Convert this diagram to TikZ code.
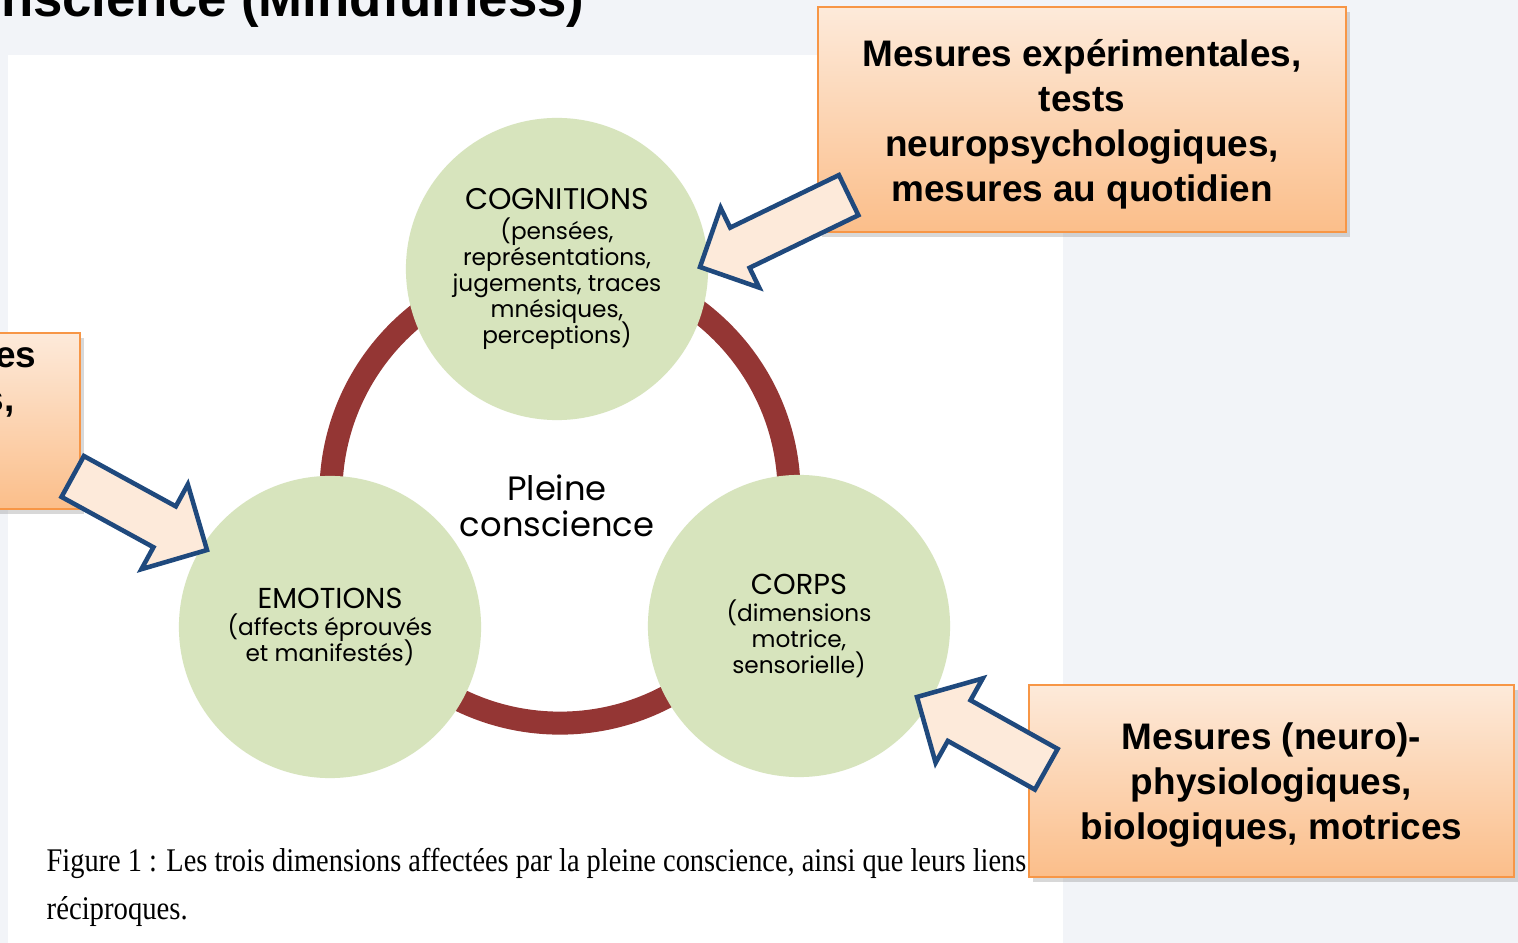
\documentclass[tikz,border=0pt]{standalone}
\usepackage{graphicx}
\usepackage{fontspec}
\setmainfont{Liberation Sans}
\newfontfamily\gothic{Poppins}
\newfontfamily\legende{Liberation Serif}
\usetikzlibrary{shapes.arrows}
\usetikzlibrary{shadows}
\definecolor{fond}{RGB}{242,244,248}
\definecolor{vertpale}{RGB}{215,228,189}
\definecolor{brique}{RGB}{148,54,52}
\definecolor{orangeclair}{RGB}{253,234,218}
\definecolor{orangefonce}{RGB}{251,190,138}
\definecolor{orangebord}{RGB}{247,150,70}
\definecolor{bleufonce}{RGB}{31,73,125}
\definecolor{peche}{RGB}{253,234,218}
\newcommand{\diamcercle}{3.02cm}
\newcommand{\rayonanneau}{2.29cm}
\newcommand{\titredim}[2][8.2]{{\fontsize{#1}{9}\selectfont #2}}
\newcommand{\serre}{\setlength{\lineskiplimit}{-10pt}}
\tikzset{
    dim/.style={circle, fill=vertpale, minimum size=\diamcercle, inner sep=0pt, align=center,
        font=\gothic\fontsize{6.6}{7.37}\selectfont, execute at begin node=\serre},
    mesure/.style={rectangle, draw=orangebord, line width=0.6pt, top color=orangeclair, bottom color=orangefonce,
        drop shadow={shadow xshift=0.04cm, shadow yshift=-0.05cm, opacity=0.3}},
    texte/.style={align=center, inner sep=0pt, font=\bfseries\fontsize{10.5}{12.76}\selectfont},
    fleche/.style={single arrow, draw=bleufonce, fill=peche, line width=1.3pt, inner xsep=0pt, outer sep=0pt, anchor=tip}
}
\begin{document}
\begin{tikzpicture}[x=0.01cm, y=-0.01cm]
    \useasboundingbox (0,0) rectangle (1518,943);
    \clip (0,0) rectangle (1518,943);
    \fill[fond] (0,0) rectangle (1518,943);
    \fill[white] (8,55) rectangle (1063,943);

    \node[anchor=base east, inner sep=0pt, font=\bfseries\fontsize{15}{18}\selectfont] (titre) at (585,17) {nscience (Mindfulness)};

    % anneau et dimensions
    \draw[brique, line width=0.23cm] (560,494) circle[radius=\rayonanneau];
    \node[dim] (cog) at (557,269) {\titredim[8.5]{COGNITIONS}\\[1.2pt](pensées,\\représentations,\\jugements, traces\\mnésiques,\\perceptions)};
    \node[dim] (emo) at (330,627) {\titredim{EMOTIONS}\\[0.5pt](affects éprouvés\\et manifestés)};
    \node[dim] (corps) at (799,626) {\titredim{CORPS}\\[0.5pt](dimensions\\motrice,\\sensorielle)};
    \node[align=center, font=\gothic\fontsize{9.6}{10.2}\selectfont] (centre) at (557,506) {Pleine\\conscience};

    \node[anchor=base west, inner sep=0pt, font=\legende\fontsize{9.4}{11}\selectfont] (leg1) at (46,871)
        {\resizebox{9.79cm}{\height}{Figure 1 : Les trois dimensions affectées par la pleine conscience, ainsi que leurs liens}};
    \node[anchor=base west, inner sep=0pt, font=\legende\fontsize{9.4}{11}\selectfont] (leg2) at (46,919)
        {\resizebox{1.41cm}{\height}{réciproques.}};

    % mesures
    \node[mesure, minimum width=4.8cm, minimum height=1.76cm] (mesGauche) at (-160,421) {};
    \node[anchor=base east, texte] (mesGauche-a) at (37,368) {es};
    \node[anchor=base east, texte] (mesGauche-b) at (15,412) {s,};
    \node[mesure, minimum width=5.28cm, minimum height=2.25cm] (mesExp) at (1082,119.5) {};
    \node[texte] (mesExp-txt) at ([yshift=-0.05cm]mesExp.center)
        {Mesures expérimentales,\\tests\\neuropsychologiques,\\mesures au quotidien};
    \node[mesure, minimum width=4.85cm, minimum height=1.92cm] (mesPhy) at (1271.5,781) {};
    \node[texte] (mesPhy-txt) at ([yshift=-0.04cm]mesPhy.center)
        {Mesures (neuro)-\\physiologiques,\\biologiques, motrices};

    % fleches
    \node[fleche, rotate=205.8, minimum height=1.65cm, inner ysep=0.2cm, single arrow head extend=0.22cm] (flHaut) at (700,267) {};
    \node[fleche, rotate=150.8, minimum height=1.48cm, inner ysep=0.21cm, single arrow head extend=0.25cm] (flDroite) at (917,697) {};
    \node[fleche, rotate=-28.7, minimum height=1.53cm, inner ysep=0.21cm, single arrow head extend=0.25cm] (flGauche) at (207,550) {};
\end{tikzpicture}
\end{document}
